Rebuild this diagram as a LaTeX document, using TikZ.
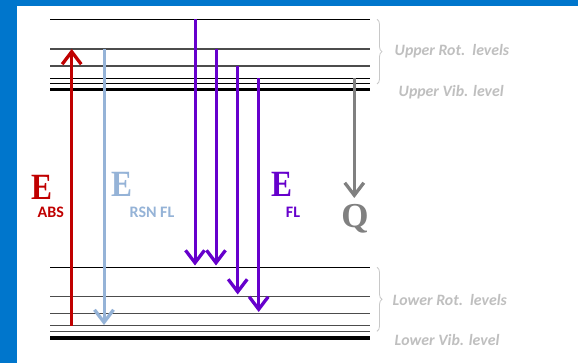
\documentclass[tikz,border=0pt]{standalone}
\usepackage{fontspec}
\setmainfont{Liberation Serif}
\newfontfamily\calfont{Carlito}
\usetikzlibrary{arrows.meta,decorations.pathreplacing}
\definecolor{bgblue}{RGB}{0,118,204}
\definecolor{absred}{RGB}{192,0,0}
\definecolor{rsnblue}{RGB}{149,179,215}
\definecolor{flpurple}{RGB}{102,0,204}
\definecolor{qgray}{RGB}{128,128,128}
\definecolor{labgray}{RGB}{191,191,191}
\definecolor{bracegray}{RGB}{200,200,200}
\begin{document}
\begin{tikzpicture}[x=1pt,y=-1pt,
  lvl/.style={line width=1pt,black},
  lvlg/.style={line width=1.2pt,black!70},
  lvlthick/.style={line width=3.6pt,black},
  arr/.style={line width=3pt,-{Straight Barb[length=12.5pt,width=19pt,line width=3.3pt]}},
  bigE/.style={font=\fontsize{37}{40}\selectfont\bfseries,inner sep=0pt},
  subl/.style={font=\calfont\fontsize{16}{18}\selectfont\bfseries,inner sep=0pt},
  rlab/.style={font=\calfont\fontsize{15.8}{18}\selectfont\bfseries\itshape,text=labgray,anchor=west,inner sep=0pt},
  brc/.style={draw=bracegray,line width=0.8pt,decorate,decoration={brace,amplitude=5pt}}]
\fill[bgblue] (0,0) rectangle (578,363);
\fill[white] (17,6) rectangle (578,363);
\useasboundingbox (0,0) rectangle (578,363);
% upper levels
\draw[lvl] (50,19.3) -- (370,19.3);
\draw[lvlg] (50,49) -- (370,49);
\draw[lvlg] (50,66) -- (370,66);
\draw[lvl] (50,78.3) -- (370,78.3);
\draw[lvl] (50,84) -- (370,84);
\draw[lvlthick] (50,89.5) -- (370,89.5);
% lower levels
\draw[lvl] (50,267.3) -- (370,267.3);
\draw[lvlg] (50,296.7) -- (370,296.7);
\draw[lvlg] (50,313.3) -- (370,313.3);
\draw[lvlg] (50,325.7) -- (370,325.7);
\draw[lvlg] (50,331.3) -- (370,331.3);
\draw[lvlthick] (50,337.7) -- (370,337.7);
% coordinates
\coordinate (r0) at (71.7,325.7); \coordinate (r1) at (71.7,49);
\coordinate (b0) at (104,49);     \coordinate (b1) at (104,325);
\coordinate (p1a) at (195,19.3);  \coordinate (p1b) at (195,265.5);
\coordinate (p2a) at (216,49);    \coordinate (p2b) at (216,265.5);
\coordinate (p3a) at (237.7,66);  \coordinate (p3b) at (237.7,294.5);
\coordinate (p4a) at (258.7,78.3);\coordinate (p4b) at (258.7,312);
\coordinate (q0) at (354.3,78.3); \coordinate (q1) at (354.3,198);
% arrows
\draw[arr,absred] (r0) -- (r1);
\draw[arr,rsnblue] (b0) -- (b1);
\draw[arr,flpurple] (p1a) -- (p1b);
\draw[arr,flpurple] (p2a) -- (p2b);
\draw[arr,flpurple] (p3a) -- (p3b);
\draw[arr,flpurple] (p4a) -- (p4b);
\draw[arr,qgray] (q0) -- (q1);
% E labels
\node[bigE,text=absred] (ea) at (42,187) {\scalebox{0.85}[1]{E}};
\node[subl,text=absred] (eas) at (50.7,212) {ABS};
\node[bigE,text=rsnblue] (eb) at (121.5,184) {\scalebox{0.85}[1]{E}};
\node[subl,text=rsnblue] (ebs) at (152,212) {RSN FL};
\node[bigE,text=flpurple] (ef) at (282,184) {\scalebox{0.85}[1]{E}};
\node[subl,text=flpurple] (efs) at (293,212) {FL};
\node[font=\fontsize{35}{38}\selectfont\bfseries,text=qgray,inner sep=0pt] (qq) at (355,219) {Q};
% braces
\draw[brc] (377,19.3) -- (377,84);
\draw[brc] (377,267.3) -- (377,331.3);
\node[rlab] (ur) at (394.5,51.5) {Upper Rot.\ \ levels};
\node[rlab] (uv) at (398.5,92) {Upper Vib. level};
\node[rlab] (lr) at (392.5,300) {Lower Rot.\ \ levels};
\node[rlab] (lv) at (394.5,340.5) {Lower Vib. level};
\end{tikzpicture}
\end{document}
